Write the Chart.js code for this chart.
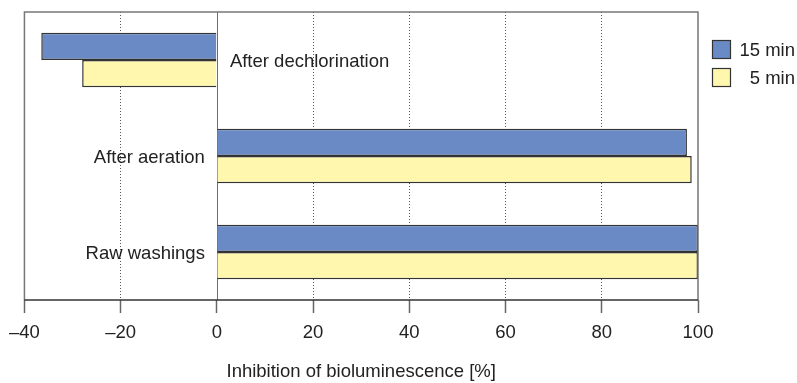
<!DOCTYPE html>
<html>
<head>
<meta charset="utf-8">
<script src="https://cdn.jsdelivr.net/npm/chart.js@4/dist/chart.umd.min.js"></script>
<style>
  html, body { margin: 0; padding: 0; background: #fff; }
  #wrap { width: 797px; height: 383px; position: relative; }
</style>
</head>
<body>
<div id="wrap"><canvas id="c" width="797" height="383"></canvas></div>
<script>
// Treatment stages, top to bottom
const categories = ['After dechlorination', 'After aeration', 'Raw washings'];
// Inhibition of bioluminescence [%] after each exposure time
const series15min = [-36.5, 97.7, 100];
const series5min = [-28, 98.7, 100];
const seriesLabels = ['15 min', '5 min'];
const xTicks = [-40, -20, 0, 20, 40, 60, 80, 100];

const FONT = "'Liberation Sans', Arial, Helvetica, sans-serif";
const FONT_SIZE = 18.5;
const TEXT = '#222';
const BLUE = '#6a8ac6';
const YELLOW = '#fff7ae';

// Frame, zero line, category labels and the legend
const decorations = {
  id: 'decorations',
  beforeDatasetsDraw(chart) {
    const { ctx, chartArea: a, scales: { x } } = chart;
    const x0 = x.getPixelForValue(0);
    ctx.save();
    ctx.strokeStyle = '#6e6e6e';
    ctx.lineWidth = 1;
    ctx.beginPath();
    ctx.moveTo(Math.round(x0) + 0.5, a.top);
    ctx.lineTo(Math.round(x0) + 0.5, a.bottom);
    ctx.stroke();
    ctx.restore();
  },
  afterDatasetsDraw(chart) {
    const { ctx, chartArea: a, scales: { x, y } } = chart;
    ctx.save();
    // frame: grey top/left/right, dark bottom axis line
    ctx.lineWidth = 1.5;
    ctx.strokeStyle = '#777';
    ctx.beginPath();
    ctx.moveTo(a.left, a.bottom);
    ctx.lineTo(a.left, a.top);
    ctx.lineTo(a.right, a.top);
    ctx.lineTo(a.right, a.bottom);
    ctx.stroke();
    ctx.strokeStyle = '#333';
    ctx.beginPath();
    ctx.moveTo(a.left, a.bottom);
    ctx.lineTo(a.right, a.bottom);
    ctx.stroke();

    // category labels beside the zero line
    const x0 = x.getPixelForValue(0);
    ctx.font = FONT_SIZE + 'px ' + FONT;
    ctx.fillStyle = TEXT;
    ctx.textBaseline = 'middle';
    categories.forEach((name, i) => {
      const yc = y.getPixelForValue(i) + 2;
      if (series15min[i] < 0) {
        ctx.textAlign = 'left';
        ctx.fillText(name, x0 + 13, yc);
      } else {
        ctx.textAlign = 'right';
        ctx.fillText(name, x0 - 12, yc);
      }
    });

    // legend
    const items = chart.data.datasets.map(d => ({ label: d.label, color: d.backgroundColor }));
    const lx = 712, size = 19, textRight = 795;
    items.forEach((it, i) => {
      const ly = 40 + i * 28;
      ctx.fillStyle = it.color;
      ctx.fillRect(lx, ly, size, size);
      ctx.strokeStyle = '#333';
      ctx.lineWidth = 1.2;
      ctx.strokeRect(lx + 0.5, ly + 0.5, size - 1, size - 1);
      ctx.fillStyle = TEXT;
      ctx.textAlign = 'right';
      ctx.textBaseline = 'middle';
      ctx.fillText(it.label, textRight, ly + size / 2 + 1);
    });
    ctx.restore();
  }
};

new Chart(document.getElementById('c'), {
  type: 'bar',
  data: {
    labels: categories,
    datasets: [
      { label: seriesLabels[0], data: series15min, backgroundColor: BLUE,
        borderColor: '#333', borderWidth: 1.5 },
      { label: seriesLabels[1], data: series5min, backgroundColor: YELLOW,
        borderColor: '#333', borderWidth: 1.5 }
    ]
  },
  options: {
    indexAxis: 'y',
    responsive: false,
    animation: false,
    devicePixelRatio: 1,
    categoryPercentage: 0.57,
    barPercentage: 1.0,
    layout: { padding: { left: 24, right: 99, top: 12, bottom: 0 } },
    plugins: { legend: { display: false }, tooltip: { enabled: false } },
    scales: {
      x: {
        type: 'linear',
        min: -40,
        max: 100,
        afterBuildTicks(scale) { scale.ticks = xTicks.map(v => ({ value: v })); },
        afterFit(scale) { scale.height = 83; },
        border: { display: false, dash: [1, 2] },
        grid: {
          drawOnChartArea: true,
          drawTicks: true,
          tickLength: 13,
          tickWidth: 1.5,
          tickColor: '#666',
          lineWidth: 1,
          tickBorderDash: [],
          color: ctx => {
            const v = ctx.tick ? ctx.tick.value : null;
            return (v === -40 || v === 0 || v === 100) ? 'rgba(0,0,0,0)' : '#555';
          }
        },
        ticks: {
          padding: 9,
          color: TEXT,
          font: { family: FONT, size: FONT_SIZE },
          callback: v => (v < 0 ? '\u2013' + Math.abs(v) : String(v))
        },
        title: {
          display: true,
          text: 'Inhibition of bioluminescence [%]',
          color: TEXT,
          font: { family: FONT, size: FONT_SIZE },
          padding: { top: 14, bottom: 0 }
        }
      },
      y: {
        display: false,
        offset: true
      }
    }
  },
  plugins: [decorations]
});
</script>
</body>
</html>
